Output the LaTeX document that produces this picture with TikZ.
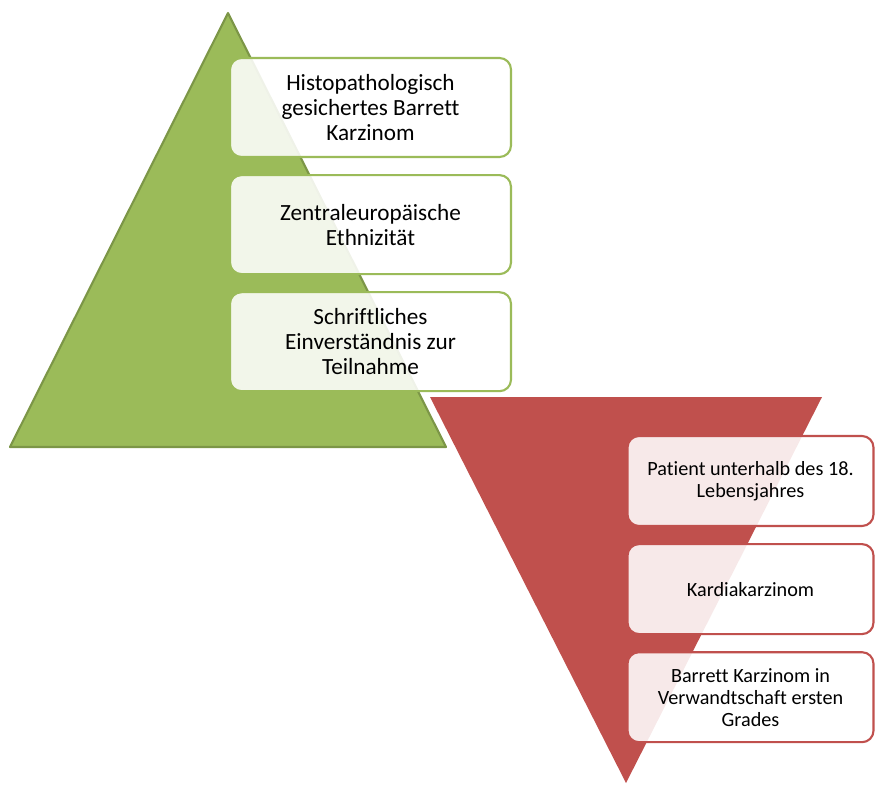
\documentclass[tikz,border=0pt]{standalone}
\usepackage{fontspec}
\setmainfont{Carlito}[Ligatures=NoCommon]
\usetikzlibrary{positioning}
\definecolor{leaf}{RGB}{155,187,89}
\definecolor{leafdark}{RGB}{113,137,62}
\definecolor{brick}{RGB}{192,80,77}
\tikzset{
  incl/.style={draw=leaf, line width=1.2pt, rounded corners=6.5pt, fill=white, fill opacity=0.88, text opacity=1, align=center, minimum width=5.62cm, minimum height=1.98cm, font=\fontsize{13.2}{14.2}\selectfont},
  excl/.style={draw=brick, line width=1.2pt, rounded corners=6.5pt, fill=white, fill opacity=0.88, text opacity=1, align=center, minimum width=4.92cm, minimum height=1.8cm, font=\fontsize{11.5}{12.5}\selectfont},
  pyr/.style={draw=#1!80!black, line width=1.2pt, fill=#1, line join=round}
}

\begin{document}
\begin{tikzpicture}[x=0.02cm, y=-0.02cm]
    \useasboundingbox (0,0) rectangle (875,785);
    % inclusion criteria
    \draw[pyr=leaf] (228,13) -- (446,447) -- (10,447) -- cycle;
    \node[incl] (in1) at (370.5,107.5) {Histopathologisch\\ gesichertes Barrett\\ Karzinom};
    \node[incl, below=0.32cm of in1] (in2) {Zentraleuropäische\\ Ethnizität};
    \node[incl, below=0.32cm of in2] (in3) {Schriftliches\\ Einverständnis zur\\ Teilnahme};
    % exclusion criteria
    \fill[brick] (430,397) -- (822,397) -- (626,783) -- cycle;
    \node[excl] (ex1) at (750.5,481) {Patient unterhalb des 18.\\ Lebensjahres};
    \node[excl, below=0.32cm of ex1] (ex2) {Kardiakarzinom};
    \node[excl, below=0.32cm of ex2] (ex3) {Barrett Karzinom in\\ Verwandtschaft ersten\\ Grades};
  \end{tikzpicture}
\end{document}
